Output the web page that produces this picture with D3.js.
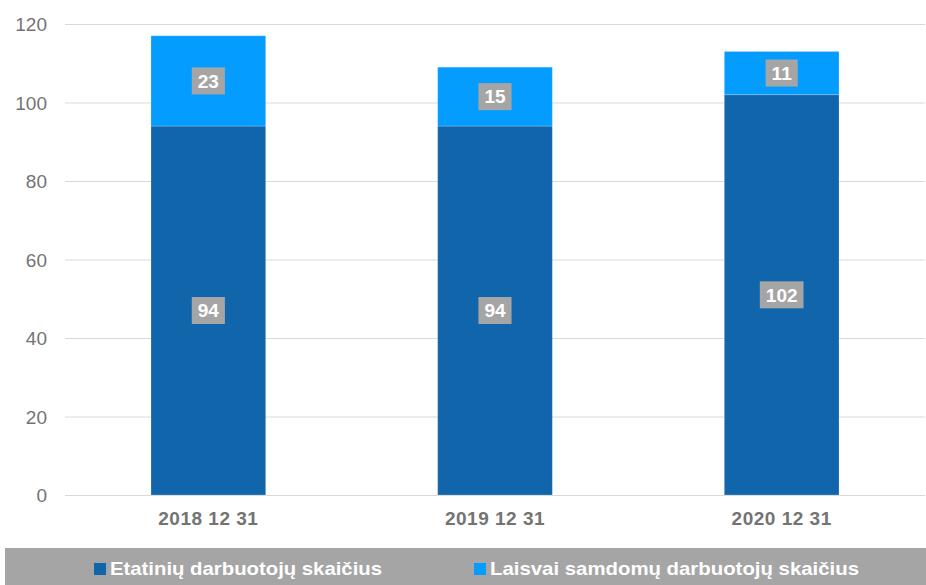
<!DOCTYPE html>
<html>
<head>
<meta charset="utf-8">
<style>
body { margin: 0; background: #fff; }
svg { display: block; font-family: "Liberation Sans", Arial, sans-serif; }
.axis--y path, .axis--x path { display: none; }
.axis--y line { stroke: #d9d9d9; }
.axis--y text { fill: #737373; font-size: 19px; }
.axis--x line { display: none; }
.axis--x text { fill: #737373; font-size: 19px; font-weight: bold; letter-spacing: 0.5px; }
.lbl text { fill: #fff; font-size: 19px; font-weight: bold; }
.legend text { fill: #fff; font-size: 19px; font-weight: bold; }
</style>
<script src="https://cdn.jsdelivr.net/npm/d3@7"></script>
</head>
<body>
<svg width="926" height="585"></svg>
<script>

var categories = ["2018 12 31", "2019 12 31", "2020 12 31"];
var etatiniai = [94, 94, 102];
var laisvai = [23, 15, 11];
var seriesNames = ["Etatinių darbuotojų skaičius", "Laisvai samdomų darbuotojų skaičius"];
var seriesColors = ["#1065ab", "#049dff"];
var yTicks = [0, 20, 40, 60, 80, 100, 120];

var svg = d3.select("svg"),
    margin = {top: 24, right: 1, bottom: 90, left: 65},
    width = +svg.attr("width") - margin.left - margin.right,
    height = 495 - margin.top;

var x = d3.scaleBand().domain(categories).range([0, width]).padding(0),
    y = d3.scaleLinear().domain([0, 120]).range([height, 0]);

var barW = x.bandwidth() * 0.4;

var g = svg.append("g")
    .attr("transform", "translate(" + margin.left + "," + margin.top + ")");

// gridlines + y axis
g.append("g")
    .attr("class", "axis axis--y")
    .call(d3.axisLeft(y).tickValues(yTicks).tickSize(-width).tickPadding(18))
    .selectAll("text").attr("dy", "0.35em");

g.append("g")
    .attr("class", "axis axis--x")
    .attr("transform", "translate(0," + height + ")")
    .call(d3.axisBottom(x).tickSize(0).tickPadding(17));

var stackData = categories.map(function(c, i) {
  return {cat: c, a: etatiniai[i], b: laisvai[i]};
});
var stack = d3.stack().keys(["a", "b"])(stackData);

var layers = g.selectAll(".layer")
  .data(stack)
  .enter().append("g")
    .attr("class", "layer")
    .attr("fill", function(d, i) { return seriesColors[i]; });

layers.selectAll("rect")
  .data(function(d) { return d; })
  .enter().append("rect")
    .attr("x", function(d) { return x(d.data.cat) + (x.bandwidth() - barW) / 2; })
    .attr("y", function(d) { return y(d[1]); })
    .attr("width", barW)
    .attr("height", function(d) { return y(d[0]) - y(d[1]); })
    .attr("stroke", "rgba(255,255,255,0.2)")
    .attr("stroke-width", 1);

// value labels
stack.forEach(function(layer) {
  layer.forEach(function(d) {
    var v = d[1] - d[0];
    var cx = x(d.data.cat) + x.bandwidth() / 2,
        cy = y((d[0] + d[1]) / 2);
    var lg = g.append("g").attr("class", "lbl");
    var t = lg.append("text")
      .attr("x", cx).attr("y", cy)
      .attr("dy", "0.36em")
      .attr("text-anchor", "middle")
      .text(v);
    var bw = t.node().getComputedTextLength() + 12;
    lg.insert("rect", "text")
      .attr("x", cx - bw / 2).attr("y", cy - 13.5)
      .attr("width", bw).attr("height", 27)
      .attr("fill", "#a5a5a5");
  });
});

// legend band
svg.append("rect")
  .attr("x", 5).attr("y", 548)
  .attr("width", 921).attr("height", 37)
  .attr("fill", "#a5a5a5");

var legend = svg.append("g").attr("class", "legend");
var lx = [94, 474];
seriesNames.forEach(function(name, i) {
  legend.append("rect")
    .attr("x", lx[i]).attr("y", 563)
    .attr("width", 12).attr("height", 12)
    .attr("fill", seriesColors[i]);
  legend.append("text")
    .attr("x", lx[i] + 16).attr("y", 568)
    .attr("dy", "0.36em")
    .attr("textLength", i === 0 ? 272 : 369)
    .attr("lengthAdjust", "spacingAndGlyphs")
    .text(name);
});

</script>
</body>
</html>
